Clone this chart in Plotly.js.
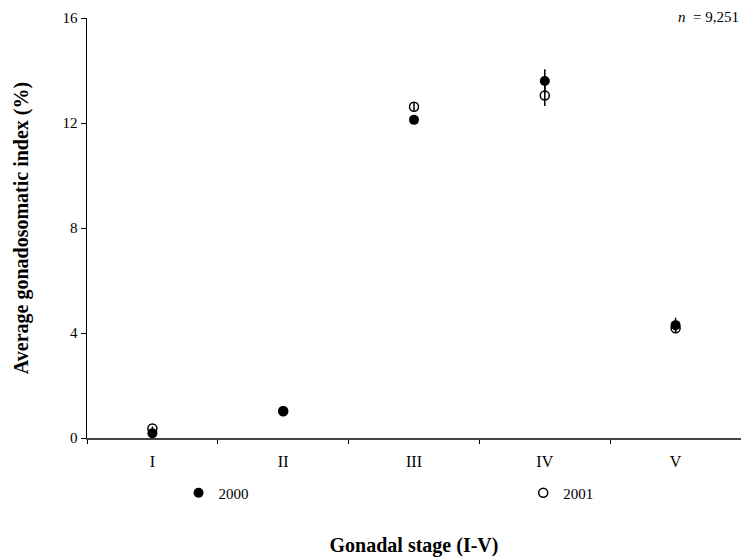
<!DOCTYPE html>
<html>
<head>
<meta charset="utf-8">
<script src="https://cdn.plot.ly/plotly-3.0.1.min.js"></script>
<style>html,body{margin:0;padding:0;background:#fff;}#chart{width:741px;height:557px;}</style>
</head>
<body>
<div id="chart"></div>
<script>
// Data
const stages = ["I", "II", "III", "IV", "V"];
const gsi2000 = [0.18, 1.03, 12.12, 13.6, 4.3];
const err2000 = [0.08, 0.08, 0.12, 0.45, 0.28];
const gsi2001 = [0.36, 1.02, 12.62, 13.05, 4.18];
const err2001 = [0.08, 0.08, 0.15, 0.4, 0.1];
const yTicks = [0, 4, 8, 12, 16];
const sampleNote = "<i>n</i>  = 9,251";

const serif = "Liberation Serif, Times New Roman, serif";

const traces = [
  {
    x: stages, y: gsi2000, name: "2000", type: "scatter", mode: "markers", legend: "legend",
    marker: {symbol: "circle", size: 10, color: "#000"},
    error_y: {type: "data", array: err2000, visible: true, color: "#000", thickness: 1.5, width: 0}
  },
  {
    x: stages, y: gsi2001, name: "2001", type: "scatter", mode: "markers", legend: "legend2",
    marker: {symbol: "circle-open", size: 9, color: "#000", line: {width: 1.5, color: "#000"}},
    error_y: {type: "data", array: err2001, visible: true, color: "#000", thickness: 1.5, width: 0}
  }
];

const legendBase = {
  orientation: "h", xanchor: "left", y: -0.131, yanchor: "middle",
  itemwidth: 30, borderwidth: 0,
  font: {family: serif, size: 15, color: "#000"}, bgcolor: "rgba(0,0,0,0)"
};

const layout = {
  width: 741, height: 557,
  margin: {l: 87, r: 0, t: 18, b: 119},
  paper_bgcolor: "#fff", plot_bgcolor: "#fff",
  font: {family: serif, size: 15, color: "#000"},
  showlegend: true,
  legend: Object.assign({}, legendBase, {x: 0.14}),
  legend2: Object.assign({}, legendBase, {x: 0.667}),
  xaxis: {
    type: "category", categoryorder: "array", categoryarray: stages,
    range: [-0.5, 4.5], showline: true, linecolor: "#444", linewidth: 1.5,
    ticks: "outside", tickson: "boundaries", ticklen: 4, tickcolor: "#000", tickwidth: 1,
    ticklabelstandoff: 8,
    showgrid: false, zeroline: false,
    tickfont: {family: serif, size: 16, color: "#000"},
    title: {text: "<b>Gonadal stage (I-V)</b>", font: {family: serif, size: 20, color: "#000"}, standoff: 70}
  },
  yaxis: {
    range: [0, 16], tickvals: yTicks, showline: true, linecolor: "#000", linewidth: 1.5,
    ticks: "outside", ticklen: 5, tickcolor: "#000", tickwidth: 1,
    showgrid: false, zeroline: false,
    tickfont: {family: serif, size: 15, color: "#000"},
    title: {text: "<b>Average gonadosomatic index (%)</b>", font: {family: serif, size: 20, color: "#000"}, standoff: 28}
  },
  annotations: [{
    text: sampleNote, xref: "paper", yref: "paper", x: 1, y: 1.0024,
    xanchor: "right", yanchor: "middle", showarrow: false,
    font: {family: serif, size: 15, color: "#000"}
  }]
};

Plotly.newPlot("chart", traces, layout, {displayModeBar: false, staticPlot: true});
</script>
</body>
</html>
